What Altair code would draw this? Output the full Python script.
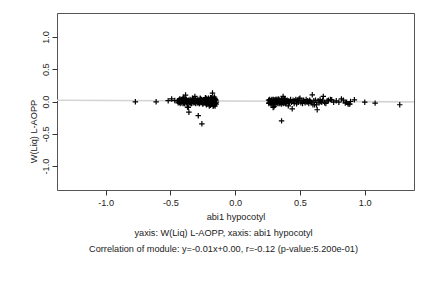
import altair as alt
import pandas as pd

# ---- data ----
# left group, dense band
xa = [-0.445, -0.440, -0.436, -0.432, -0.428, -0.424, -0.420, -0.416, -0.412, -0.408,
      -0.404, -0.400, -0.396, -0.392, -0.388, -0.384, -0.380, -0.376, -0.372, -0.368,
      -0.364, -0.360, -0.356, -0.352, -0.348, -0.344, -0.340, -0.336, -0.332, -0.328,
      -0.324, -0.320, -0.316, -0.312, -0.308, -0.304, -0.300, -0.296, -0.292, -0.288,
      -0.284, -0.280, -0.276, -0.272, -0.268, -0.264, -0.260, -0.256, -0.252, -0.248,
      -0.244, -0.240, -0.236, -0.232, -0.228, -0.224, -0.220, -0.216, -0.212, -0.208,
      -0.204, -0.200, -0.196, -0.192, -0.188, -0.184, -0.180, -0.176, -0.172, -0.168,
      -0.164, -0.160, -0.156, -0.152, -0.148, -0.145]
ya = [0.01, -0.02, 0.02, -0.01, 0.03, -0.03, 0.00, 0.02, -0.02, 0.01,
      0.04, -0.01, 0.02, -0.03, 0.05, 0.00, -0.02, 0.03, -0.01, 0.01,
      -0.03, 0.02, 0.00, -0.02, 0.03, -0.01, 0.01, -0.03, 0.02, 0.00,
      -0.02, 0.03, -0.01, 0.01, 0.04, -0.03, 0.02, 0.00, -0.02, 0.03,
      -0.01, 0.01, -0.03, 0.02, 0.04, -0.02, 0.03, -0.01, 0.01, -0.03,
      0.02, 0.00, -0.02, 0.03, -0.01, 0.05, -0.03, 0.02, 0.00, -0.02,
      0.04, -0.01, 0.01, -0.03, 0.03, 0.06, -0.02, 0.02, -0.04, 0.01,
      0.03, -0.02, 0.04, -0.03, 0.02, -0.01]
xa2 = [-0.430, -0.418, -0.402, -0.390, -0.374, -0.358, -0.342, -0.326, -0.310, -0.294,
       -0.278, -0.262, -0.250, -0.238, -0.226, -0.218, -0.210, -0.202, -0.194, -0.186,
       -0.178, -0.170, -0.162, -0.154, -0.147, -0.222, -0.206, -0.190, -0.174, -0.158]
ya2 = [-0.01, 0.01, -0.03, 0.02, -0.02, 0.01, -0.03, 0.03, -0.02, 0.01,
       -0.03, 0.02, -0.04, 0.01, -0.03, 0.04, -0.04, 0.02, -0.05, 0.03,
       -0.04, 0.05, -0.05, 0.03, -0.04, -0.05, 0.05, -0.06, 0.04, 0.05]
# left group, scattered points and outliers
xa3 = [-0.77, -0.61, -0.517, -0.49, -0.466, -0.427, -0.383, -0.311, -0.175, -0.190,
       -0.368, -0.362, -0.357, -0.285, -0.257, -0.200, -0.170, -0.165, -0.155, -0.400,
       -0.330, -0.270, -0.230, -0.160]
ya3 = [-0.005, -0.005, 0.012, 0.04, 0.015, 0.037, 0.10, 0.078, 0.13, 0.06,
       -0.087, -0.09, -0.165, -0.22, -0.345, -0.07, -0.075, -0.06, -0.07, 0.065,
       0.05, 0.05, 0.06, 0.07]

# right group, dense band
xb = [0.258, 0.262, 0.266, 0.270, 0.274, 0.278, 0.282, 0.286, 0.290, 0.294,
      0.298, 0.302, 0.306, 0.310, 0.314, 0.318, 0.322, 0.326, 0.330, 0.334,
      0.338, 0.342, 0.346, 0.350, 0.354, 0.358, 0.362, 0.366, 0.370, 0.374,
      0.378, 0.382, 0.386, 0.390, 0.394, 0.398]
yb = [0.02, -0.02, 0.03, -0.01, 0.01, -0.03, 0.02, 0.00, -0.02, 0.03,
      -0.01, 0.02, -0.03, 0.01, 0.03, -0.02, 0.00, 0.02, -0.03, 0.01,
      0.03, -0.01, 0.02, -0.02, 0.00, 0.03, -0.01, 0.01, -0.03, 0.02,
      0.00, -0.02, 0.03, -0.01, 0.01, -0.02]
xb2 = [0.260, 0.268, 0.276, 0.284, 0.292, 0.300, 0.308, 0.316, 0.324, 0.332,
       0.340, 0.348, 0.356, 0.364, 0.372, 0.380, 0.388, 0.396]
yb2 = [-0.03, 0.01, -0.04, 0.03, -0.05, 0.02, -0.04, 0.03, -0.02, 0.04,
       -0.03, 0.01, -0.04, 0.02, -0.02, 0.04, -0.03, 0.01]
# right group, spread part and outliers
xb3 = [0.293, 0.300, 0.358, 0.370, 0.402, 0.410, 0.414, 0.420, 0.428, 0.435,
       0.440, 0.447, 0.455, 0.460, 0.468, 0.474, 0.480, 0.487, 0.493, 0.500,
       0.507, 0.515, 0.520, 0.528, 0.535, 0.540, 0.548, 0.555, 0.560, 0.568,
       0.575, 0.580, 0.588, 0.595, 0.600, 0.607, 0.613, 0.620, 0.628, 0.633,
       0.640, 0.648, 0.655, 0.660, 0.668, 0.675, 0.680, 0.690, 0.700, 0.710,
       0.720, 0.735, 0.745, 0.760, 0.780, 0.800, 0.820, 0.835, 0.850, 0.860,
       0.870, 0.878, 0.885, 0.890, 0.920, 1.000, 1.080, 1.270]
yb3 = [-0.093, -0.08, -0.30, 0.078, 0.02, -0.067, 0.01, -0.02, 0.03, -0.01,
       -0.113, 0.02, -0.03, 0.01, 0.03, -0.036, 0.02, -0.01, 0.04, 0.052,
       -0.02, 0.01, -0.03, 0.02, 0.00, -0.02, 0.03, -0.01, 0.01, -0.03,
       0.02, 0.00, -0.02, 0.104, -0.05, 0.01, -0.05, 0.02, -0.05, -0.128,
       0.01, -0.02, 0.03, 0.00, -0.01, 0.02, 0.078, -0.02, -0.03, 0.01,
       0.02, 0.03, 0.026, -0.01, 0.01, -0.01, 0.04, 0.02, -0.025, -0.01,
       -0.035, -0.04, -0.04, 0.00, 0.026, -0.01, -0.025, -0.05]

# fitted line (y = -0.01x + 0.00), end points
fit_x = [-1.375, 1.38]
fit_y = [0.02, -0.006]

x_ticks = [-1.0, -0.5, 0.0, 0.5, 1.0]
y_ticks = [-1.0, -0.5, 0.0, 0.5, 1.0]

pts = pd.DataFrame({
    "x": xa + xa2 + xa3 + xb + xb2 + xb3,
    "y": ya + ya2 + ya3 + yb + yb2 + yb3,
})
fit = pd.DataFrame({"x": fit_x, "y": fit_y})

FONT = "Liberation Sans"
FS = 9.2
xscale = alt.Scale(domain=[-1.375, 1.38], nice=False, zero=False)
yscale = alt.Scale(domain=[-1.37, 1.37], nice=False, zero=False)
lab = "replace(format(datum.value, '.1f'), '\u2212', '-')"

xaxis = alt.Axis(values=x_ticks, labelExpr=lab, title="abi1 hypocotyl", grid=False,
                 domain=False, tickSize=5, tickColor="#333", labelFontSize=FS,
                 labelFont=FONT, labelColor="#222", labelPadding=3,
                 titleFont=FONT, titleFontSize=FS, titleFontWeight="normal",
                 titleColor="#222", titlePadding=5)
yaxis = alt.Axis(values=y_ticks, labelExpr=lab, title="W(Liq) L-AOPP", grid=False,
                 domain=False, tickSize=5, tickColor="#333", labelFontSize=FS,
                 labelFont=FONT, labelColor="#222", labelAngle=-90, labelPadding=2,
                 labelAlign="center", labelBaseline="bottom",
                 titleFont=FONT, titleFontSize=FS, titleFontWeight="normal",
                 titleColor="#222", titleAngle=-90, titleAlign="center",
                 titleBaseline="bottom", titleX=-19, titleY=118)

line = alt.Chart(fit).mark_line(color="#d4d4d4", strokeWidth=1.6, clip=True).encode(
    x=alt.X("x:Q", scale=xscale, axis=xaxis),
    y=alt.Y("y:Q", scale=yscale, axis=yaxis),
)
points = alt.Chart(pts).mark_point(
    shape="M-1,0H1M0,-1V1", size=30, filled=False, color="black",
    strokeWidth=1.2, opacity=1,
).encode(
    x=alt.X("x:Q", scale=xscale),
    y=alt.Y("y:Q", scale=yscale),
)

chart = alt.layer(line, points).properties(
    width=357, height=177,
    padding={"left": 57, "top": 13, "right": 18, "bottom": 98},
    autosize=alt.AutoSizeParams(type="none"),
    background="white",
    title=alt.TitleParams(
        text="yaxis: W(Liq) L-AOPP, xaxis: abi1 hypocotyl",
        subtitle="Correlation of module: y=-0.01x+0.00, r=-0.12 (p-value:5.200e-01)",
        orient="bottom", anchor="middle", dx=-12, offset=8,
        font=FONT, fontSize=FS, fontWeight="normal", color="#222",
        subtitleFont=FONT, subtitleFontSize=FS, subtitleColor="#222",
        subtitlePadding=6.5,
    ),
).configure_view(stroke="#555", strokeWidth=1)

chart.save("out.html", embed_options={"renderer": "svg", "actions": False})
